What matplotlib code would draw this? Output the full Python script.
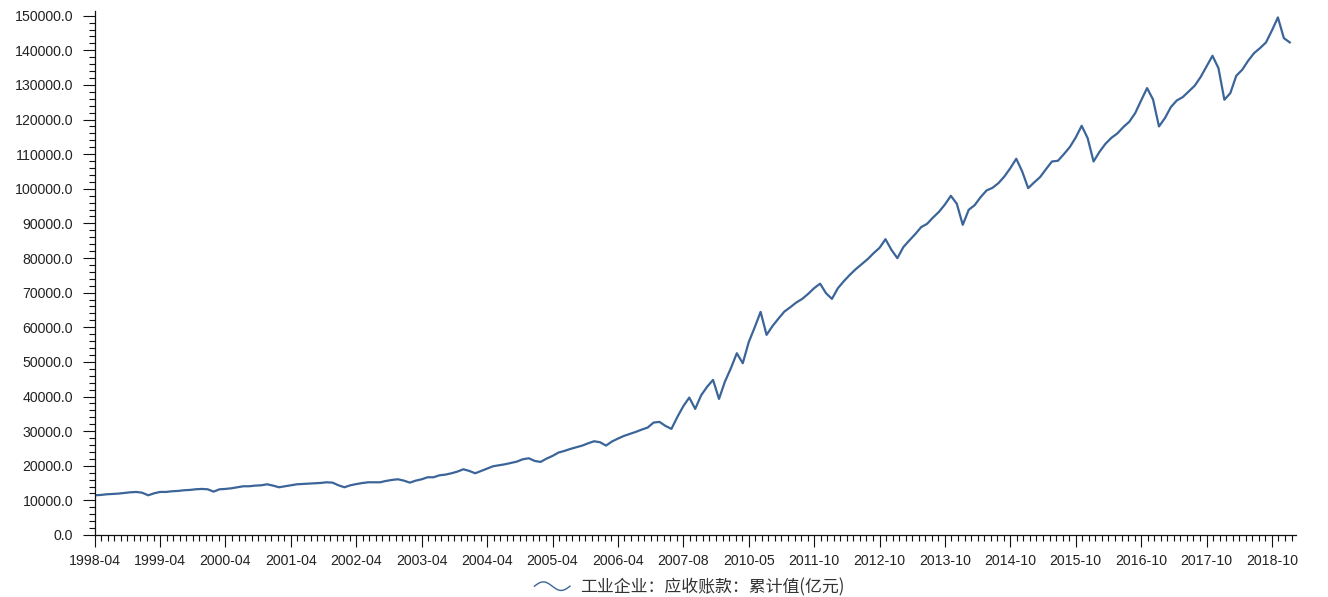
import numpy as np
import matplotlib

matplotlib.use("Agg")
import matplotlib.pyplot as plt
from matplotlib.lines import Line2D
from matplotlib.legend_handler import HandlerBase
from matplotlib.ticker import MultipleLocator, FixedLocator, FuncFormatter

plt.rcParams["font.family"] = ["Liberation Sans", "Noto Sans CJK SC", "DejaVu Sans"]

SERIES_NAME = "工业企业：应收账款：累计值(亿元)"

# tick labels, one every 11 points along the category axis
TICK_LABELS = [
    "1998-04", "1999-04", "2000-04", "2001-04", "2002-04", "2003-04",
    "2004-04", "2005-04", "2006-04", "2007-08", "2010-05", "2011-10",
    "2012-10", "2013-10", "2014-10", "2015-10", "2016-10", "2017-10",
    "2018-10",
]
POINTS_PER_LABEL = 11

# accounts receivable, cumulative value (100 million yuan)
VALUES = [
    11460, 11560, 11750, 11850, 11950, 12140, 12330, 12430, 12200, 11460,
    12040, 12430, 12430, 12620, 12720, 12910, 13010, 13200, 13300, 13200,
    12520, 13200, 13300, 13490, 13780, 14070, 14070, 14260, 14350, 14640,
    14260, 13780, 14070, 14350, 14640, 14740, 14840, 14930, 15030, 15220,
    15120, 14350, 13780, 14350, 14700, 15000, 15220, 15220, 15220, 15610,
    15900, 16090, 15700, 15120, 15700, 16090, 16670, 16670, 17240, 17440,
    17820, 18300, 18980, 18500, 17820, 18500, 19170, 19850, 20140, 20420,
    20810, 21190, 21870, 22160, 21390, 21100, 22060, 22830, 23800, 24280,
    24850, 25340, 25820, 26490, 27070, 26780, 25820, 27000, 27840, 28610,
    29190, 29770, 30440, 31020, 32470, 32660, 31500, 30640, 34100, 37200,
    39690, 36420, 40360, 42800, 44800, 39300, 44310, 48170, 52500, 49610,
    55700, 59950, 64450, 57800, 60350, 62500, 64540, 65800, 67150, 68200,
    69650, 71290, 72600, 69840, 68200, 71290, 73310, 75140, 76780, 78220,
    79670, 81400, 82940, 85450, 82370, 79960, 83140, 85060, 86890, 88920,
    89880, 91710, 93350, 95470, 97970, 95660, 89590, 93930, 95270, 97590,
    99510, 100280, 101630, 103560, 105970, 108670, 105000, 100190, 101830, 103370,
    105680, 107890, 108090, 110000, 112040, 114830, 118200, 114640, 107890, 110690,
    113000, 114730, 115990, 117820, 119360, 121860, 125520, 129090, 125800, 118010,
    120420, 123600, 125520, 126490, 128120, 129760, 132270, 135350, 138430, 134870,
    125720, 127640, 132650, 134390, 136990, 139200, 140650, 142280, 145750, 149510,
    143540, 142280,
]

LINE_COLOR = "#3b6598"
TEXT_COLOR = "#222222"


class WaveHandler(HandlerBase):
    """legend icon drawn as one sine period, like the original chart"""

    def create_artists(self, legend, orig_handle, xdescent, ydescent,
                       width, height, fontsize, trans):
        t = np.linspace(0, 1, 60)
        xs = -xdescent + t * width
        ys = -ydescent + height / 2 + np.sin(t * 2 * np.pi) * height * 0.36
        ln = Line2D(xs, ys, color=orig_handle.get_color(), lw=1.0, transform=trans)
        return [ln]


fig = plt.figure(figsize=(13.28, 5.97), dpi=100)
ax = fig.add_axes([0.0713, 0.1039, 0.9757 - 0.0713, 0.9821 - 0.1039])

x = np.arange(len(VALUES))
line, = ax.plot(x, VALUES, color=LINE_COLOR, lw=1.6, solid_joinstyle="round")

n_axis = len(VALUES)
ax.set_xlim(0, n_axis)
ax.set_ylim(0, 151450)

for side in ("top", "right"):
    ax.spines[side].set_visible(False)
for side in ("left", "bottom"):
    ax.spines[side].set_color("#111111")
    ax.spines[side].set_linewidth(0.9)

major_pos = [i * POINTS_PER_LABEL for i in range(len(TICK_LABELS))]
ax.xaxis.set_major_locator(FixedLocator(major_pos))
ax.set_xticklabels(TICK_LABELS)
minor_step = POINTS_PER_LABEL / 10
ax.xaxis.set_minor_locator(FixedLocator(np.arange(0, n_axis + 0.01, minor_step)))

ax.yaxis.set_major_locator(MultipleLocator(10000))
ax.yaxis.set_minor_locator(MultipleLocator(2000))
ax.yaxis.set_major_formatter(FuncFormatter(lambda v, _: f"{v:.1f}"))

ax.tick_params(axis="both", which="major", length=8.5, width=0.8,
               color="#111111", labelsize=10.2, labelcolor=TEXT_COLOR)
ax.tick_params(axis="both", which="minor", length=4.3, width=0.8, color="#111111")
ax.tick_params(axis="y", which="major", pad=7)
ax.tick_params(axis="x", which="major", pad=5)

leg = fig.legend([line], [SERIES_NAME], handler_map={Line2D: WaveHandler()},
                 loc="center", bbox_to_anchor=(689.5 / 1328, 1 - 587 / 597),
                 frameon=False, handlelength=2.1, handletextpad=0.6,
                 prop={"family": ["Noto Sans CJK SC", "DejaVu Sans"], "size": 12.2})
for txt in leg.get_texts():
    txt.set_color("#333333")

fig.savefig("out.png", dpi=100)
plt.close(fig)
